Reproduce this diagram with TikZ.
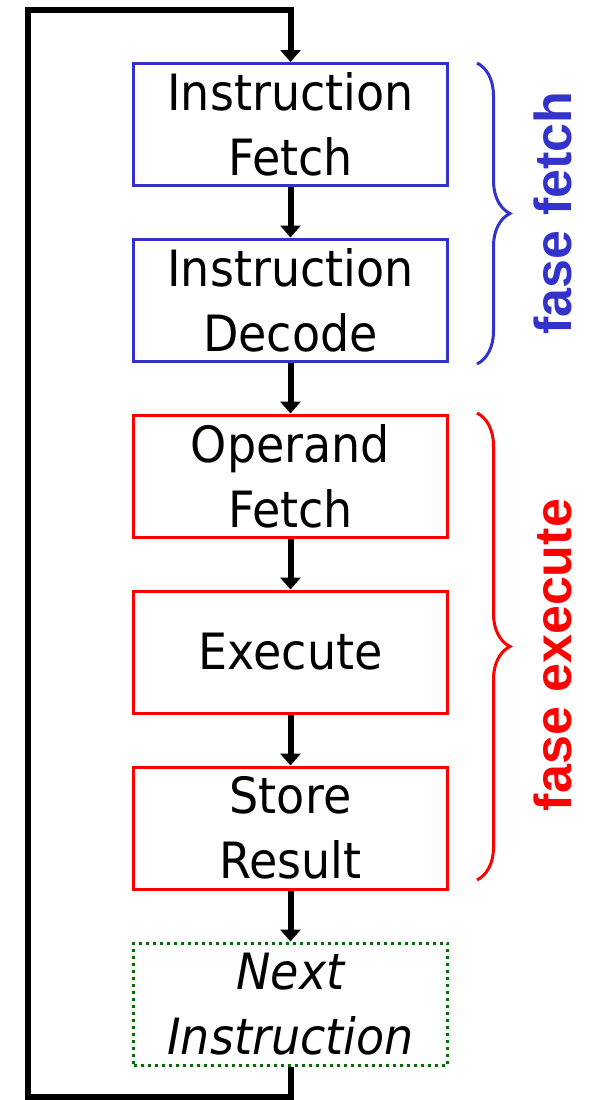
\documentclass[tikz,border=0pt]{standalone}
\usepackage{fontspec}
\usetikzlibrary{arrows.meta,decorations.pathreplacing}
\newfontfamily\boxfont[FakeStretch=0.92]{DejaVu Sans}
\newfontfamily\phasefont{Liberation Sans}
\definecolor{fetchblue}{RGB}{51,51,204}
\definecolor{execred}{RGB}{255,0,0}
\definecolor{nextgreen}{RGB}{0,110,0}
\tikzset{
    stage/.style={draw,line width=1.5pt,minimum width=157pt,minimum height=61pt,
        inner sep=0pt,align=center,font=\boxfont\fontsize{25}{32.5}\selectfont},
    flow/.style={line width=3pt,-{Triangle[width=10pt,length=6pt]}},
    phase/.style={decorate,decoration={brace,amplitude=16.5pt},line width=1.5pt},
    phaselabel/.style={rotate=90,font=\phasefont\bfseries\fontsize{26}{30}\selectfont}
}
\begin{document}
\begin{tikzpicture}[x=0.5pt,y=-0.5pt]
                \useasboundingbox (0,0) rectangle (595,1100);
                % stages
                \node[stage,draw=fetchblue] (ifetch) at (290.5,124.5) {Instruction\\Fetch};
                \node[stage,draw=fetchblue] (idecode) at (290.5,300) {Instruction\\Decode};
                \node[stage,draw=execred] (ofetch) at (290.5,476) {Operand\\Fetch};
                \node[stage,draw=execred] (exec) at (290.5,652) {Execute};
                \node[stage,draw=execred] (store) at (290.5,828) {Store\\Result};
                \node[stage,draw=nextgreen,dash pattern=on 1.5pt off 2pt] (next) at (290.5,1004) {\itshape Next\\\itshape Instruction};
                % arrows between stages
                \draw[flow] (ifetch) -- (idecode);
                \draw[flow] (idecode) -- (ofetch);
                \draw[flow] (ofetch) -- (exec);
                \draw[flow] (exec) -- (store);
                \draw[flow] (store) -- (next);
                % back to the start
                \coordinate (loopbl) at (28,1097);
                \coordinate (looptl) at (28,10);
                \draw[flow,line join=miter] (next.south) |- (loopbl) -- (looptl) -| (ifetch.north);
                % phases
                \coordinate (fetchtop) at (477,63);
                \coordinate (fetchbot) at (477,364);
                \coordinate (exectop) at (477,413);
                \coordinate (execbot) at (477,880);
                \draw[phase,fetchblue] (fetchtop) -- (fetchbot);
                \draw[phase,execred] (exectop) -- (execbot);
                \node[phaselabel,text=fetchblue] (fetchlbl) at (553,213) {fase fetch};
                \node[phaselabel,text=execred] (execlbl) at (553,655) {fase execute};
\end{tikzpicture}
\end{document}
